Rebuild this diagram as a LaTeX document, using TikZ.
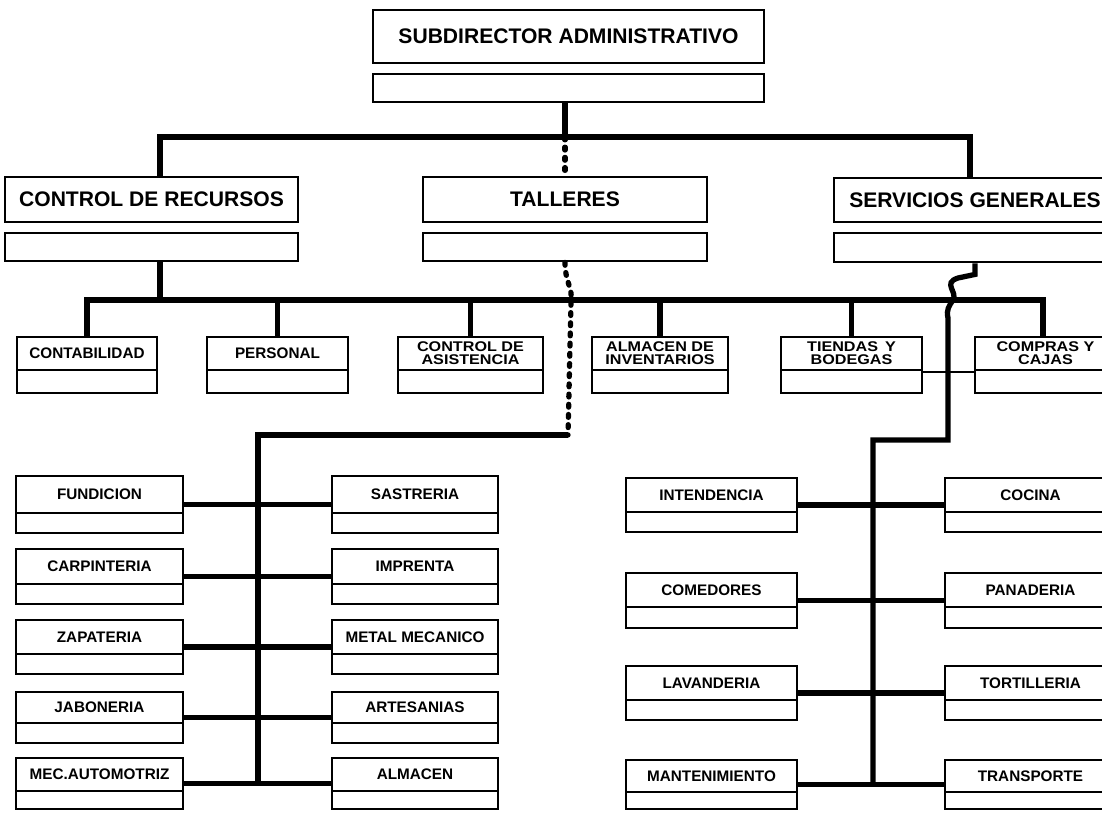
\documentclass[tikz,border=0pt]{standalone}
\usepackage{fontspec}
\setmainfont{Liberation Sans}
\newfontfamily\widesans{Liberation Sans}[FakeStretch=1.15]
\usetikzlibrary{fit,calc}

\tikzset{
  frame/.style={draw=black, line width=1.6pt, inner sep=0pt},
  unitbox/.style={frame},
  headtext/.style={inner sep=0pt, font=\bfseries\fontsize{12}{14}\selectfont},
  divider/.style={line width=1.3pt},
  lbl/.style={inner sep=0pt, align=center, font=\bfseries\fontsize{8.7}{9}\selectfont},
  lblsmall/.style={lbl, font=\widesans\bfseries\fontsize{8}{7.4}\selectfont},
  conn/.style={line width=3pt, line join=miter},
  dotline/.style={line width=3pt, line cap=round, dash pattern=on 1.6pt off 4.2pt},
}

% unit box with a blank strip at the bottom:
% [label style]{name}{x1}{y1}{x2}{y2}{strip height}{text}
\newcommand\orgunit[8][lbl]{%
  \node[unitbox, fit={(#3,#4) (#5,#6)}] (#2) {};
  \draw[divider] ({#3},{#6-#7}) -- ({#5},{#6-#7});
  \node[#1] (#2-t) at ({(#3+#5)/2},{(#4+#6-#7)/2}) {#8};
}

\begin{document}
\begin{tikzpicture}[x=0.02cm, y=-0.02cm]
\useasboundingbox (0,0) rectangle (1102,812);
\fill[white] (0,0) rectangle (1102,812);
\clip (0,0) rectangle (1102,812);

% head of the administration
\node[frame, fit={(373,10) (764,63)}] (sub) {};
\node[headtext] (sub-t) at (sub.center) {SUBDIRECTOR ADMINISTRATIVO};
\node[frame, fit={(373,74) (764,102)}] (subS) {};

% three departments
\node[frame, fit={(5,177) (298,222)}] (rec) {};
\node[headtext] (rec-t) at (rec.center) {CONTROL DE RECURSOS};
\node[frame, fit={(5,233) (298,261)}] (recS) {};
\node[frame, fit={(423,177) (707,222)}] (tal) {};
\node[headtext] (tal-t) at (tal.center) {TALLERES};
\node[frame, fit={(423,233) (707,261)}] (talS) {};
\node[frame, fit={(834,178) (1116,222)}] (ser) {};
\node[headtext] (ser-t) at (ser.center) {SERVICIOS GENERALES};
\node[frame, fit={(834,233) (1116,262)}] (serS) {};

% offices under resource control
\orgunit{cont}{17}{337}{157}{393}{23}{CONTABILIDAD}
\orgunit{pers}{207}{337}{348}{393}{23}{PERSONAL}
\orgunit[lblsmall]{asis}{398}{337}{543}{393}{23}{CONTROL DE\\ASISTENCIA}
\orgunit[lblsmall]{alma}{592}{337}{728}{393}{23}{ALMACEN DE\\INVENTARIOS}
\orgunit[lblsmall]{tien}{781}{337}{922}{393}{23}{TIENDAS\enspace Y\\BODEGAS}
\orgunit[lblsmall]{comp}{975}{337}{1116}{393}{23}{COMPRAS Y\\CAJAS}

% workshops
\orgunit{fun}{16}{476}{183}{533}{20}{FUNDICION}
\orgunit{car}{16}{549}{183}{604}{20}{CARPINTERIA}
\orgunit{zap}{16}{620}{183}{674}{20}{ZAPATERIA}
\orgunit{jab}{16}{692}{183}{743}{20}{JABONERIA}
\orgunit{mec}{16}{758}{183}{809}{18}{MEC.AUTOMOTRIZ}
\orgunit{sas}{332}{476}{498}{533}{20}{SASTRERIA}
\orgunit{imp}{332}{549}{498}{604}{20}{IMPRENTA}
\orgunit{met}{332}{620}{498}{674}{20}{METAL MECANICO}
\orgunit{art}{332}{692}{498}{743}{20}{ARTESANIAS}
\orgunit{alm}{332}{758}{498}{809}{18}{ALMACEN}

% general services
\orgunit{int}{626}{478}{797}{532}{20}{INTENDENCIA}
\orgunit{com}{626}{573}{797}{628}{21}{COMEDORES}
\orgunit{lav}{626}{666}{797}{720}{20}{LAVANDERIA}
\orgunit{man}{626}{760}{797}{809}{17}{MANTENIMIENTO}
\orgunit{coc}{945}{478}{1116}{532}{20}{COCINA}
\orgunit{pan}{945}{573}{1116}{628}{21}{PANADERIA}
\orgunit{tor}{945}{666}{1116}{720}{20}{TORTILLERIA}
\orgunit{tra}{945}{760}{1116}{809}{17}{TRANSPORTE}

% bus points
\coordinate (b1m) at (565,137);
\coordinate (b1l) at (160,137);
\coordinate (b1r) at (970,137);
\coordinate (b2l) at (87,300);
\coordinate (b2r) at (1043,300);
\coordinate (b2c) at (160,300);
\coordinate (tc) at (568,435);
\coordinate (tv) at (258,435);
\coordinate (sc) at (948,440);
\coordinate (sv) at (873,440);

% first level
\draw[conn] (b1m |- subS.south) -- (b1m);
\draw[conn] (b1l |- rec.north) -- (b1l) -- (b1r) -- (b1r |- ser.north);
\draw[dotline] (b1m) -- (b1m |- tal.north);

% second level
\draw[conn] (b2c |- recS.south) -- (b2c);
\draw[conn] (b2l |- cont.north) -- (b2l) -- (b2r) -- (b2r |- comp.north);
\foreach \n in {pers,asis,alma,tien}
  \draw[conn] (\n.north) -- (\n.north |- b2l);
\draw[divider, line width=1pt] (tien.east |- 0,372) -- (comp.west |- 0,372);

% workshops branch
\draw[dotline] (talS.south) .. controls (565,282) and (573,288) .. (571,302) -- (tc);
\draw[conn] (tc) -- (tv) -- (tv |- mec.east);
\draw[conn] (fun.east) -- (sas.west);
\draw[conn] (car.east) -- (imp.west);
\draw[conn] (zap.east) -- (met.west);
\draw[conn] (jab.east) -- (art.west);
\draw[conn] (mec.east) -- (alm.west);

% general services branch
\draw[conn] (serS.south) -- ++(0,11) -- (958,278)
  .. controls (942,283) and (958,292) .. (953,300)
  .. controls (949,306) and (946,310) .. (948,318) -- (sc) -- (sv) -- (sv |- man.east);
\draw[conn] (int.east) -- (coc.west);
\draw[conn] (com.east) -- (pan.west);
\draw[conn] (lav.east) -- (tor.west);
\draw[conn] (man.east) -- (tra.west);
\end{tikzpicture}
\end{document}
